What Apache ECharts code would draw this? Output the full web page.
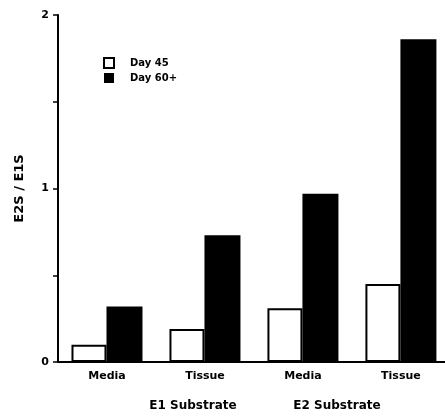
<!DOCTYPE html>
<html>
<head>
<meta charset="utf-8">
<script src="https://cdn.jsdelivr.net/npm/echarts@6/dist/echarts.min.js"></script>
<style>
html,body{margin:0;padding:0;background:#fff;}
#chart{width:445px;height:417px;}
</style>
</head>
<body>
<div id="chart"></div>
<script>
var categories = ['Media', 'Tissue', 'Media', 'Tissue'];
var seriesNames = ['Day 45', 'Day 60+'];
var day45 = [0.10, 0.19, 0.31, 0.45];
var day60 = [0.32, 0.73, 0.97, 1.86];
var yTickLabels = ['0', '1', '2'];
var groupLabels = ['E1 Substrate', 'E2 Substrate'];
var yAxisName = 'E2S / E1S';

var FONT = '"DejaVu Sans", "Liberation Sans", Arial, sans-serif';
var catIndex = categories.map(function (c, i) { return i; });
function pairs(arr) { return arr.map(function (v, i) { return [catIndex[i], v]; }); }

var chart = echarts.init(document.getElementById('chart'));
chart.setOption({
  backgroundColor: '#fff',
  animation: false,
  grid: { left: 58, top: 15, right: 0, bottom: 55 },
  legend: {
    orient: 'vertical', left: 103, top: 57, padding: 0,
    itemWidth: 10, itemHeight: 10, itemGap: 4,
    textStyle: { fontFamily: FONT, fontWeight: 'bold', fontSize: 10, color: '#000', padding: [0, 0, 0, 11] },
    data: [
      { name: seriesNames[0], icon: 'rect', itemStyle: { color: '#fff', borderColor: '#000', borderWidth: 2 } },
      { name: seriesNames[1], icon: 'rect' }
    ]
  },
  xAxis: {
    type: 'value', min: -0.5, max: 3.45,
    axisLine: { show: true, onZero: false, lineStyle: { color: '#000', width: 2 } },
    axisTick: { show: false },
    splitLine: { show: false },
    axisLabel: {
      customValues: catIndex,
      fontFamily: FONT, fontWeight: 'bold', fontSize: 11, color: '#000', margin: 9,
      formatter: function (v) { return categories[v]; }
    }
  },
  yAxis: {
    type: 'value', min: 0, max: 2, interval: 0.5,
    name: yAxisName, nameLocation: 'middle', nameGap: 32,
    nameTextStyle: { fontFamily: FONT, fontWeight: 'bold', fontSize: 13, color: '#000' },
    axisLine: { show: true, onZero: false, lineStyle: { color: '#000', width: 2 } },
    axisTick: { show: true, length: 5, lineStyle: { color: '#000', width: 1.5 } },
    splitLine: { show: false },
    axisLabel: {
      fontFamily: FONT, fontWeight: 'bold', fontSize: 11, color: '#000', margin: 9,
      formatter: function (v) { return Number.isInteger(v) ? yTickLabels[v] : ''; }
    }
  },
  series: [
    {
      name: seriesNames[0], type: 'bar', data: pairs(day45), barWidth: 35, barGap: '0%',
      itemStyle: { color: '#fff', borderColor: '#000', borderWidth: 2 }
    },
    {
      name: seriesNames[1], type: 'bar', data: pairs(day60), barWidth: 36, barGap: '0%',
      itemStyle: { color: '#000' }
    }
  ],
  graphic: [
    { type: 'text', x: 193, y: 406, style: { text: groupLabels[0], font: 'bold 12px ' + FONT, fill: '#000', align: 'center', verticalAlign: 'middle' } },
    { type: 'text', x: 337, y: 406, style: { text: groupLabels[1], font: 'bold 12px ' + FONT, fill: '#000', align: 'center', verticalAlign: 'middle' } }
  ]
});
</script>
</body>
</html>
